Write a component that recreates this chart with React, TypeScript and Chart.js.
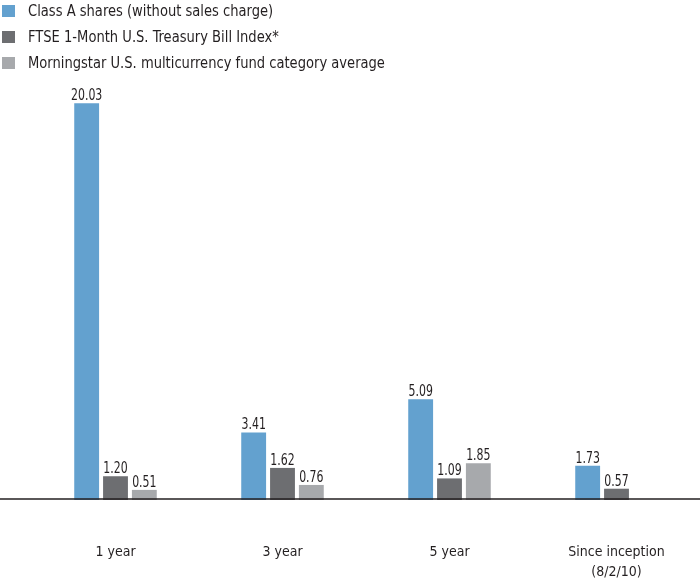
import React, { useEffect, useRef } from "react";
import { Chart, registerables } from "chart.js";

Chart.register(...registerables);

if (typeof document !== "undefined") {
  document.body.style.margin = "0";
  document.body.style.overflow = "hidden";
}

const categories: (string | string[])[] = ["1 year", "3 year", "5 year", ["Since inception", "(8/2/10)"]];
const seriesNames = [
  "Class A shares (without sales charge)",
  "FTSE 1-Month U.S. Treasury Bill Index*",
  "Morningstar U.S. multicurrency fund category average",
];
const classAValues = [20.03, 3.41, 5.09, 1.73];
const ftseValues = [1.2, 1.62, 1.09, 0.57];
const morningstarValues: (number | null)[] = [0.51, 0.76, 1.85, null];

const seriesColors = ["#63a1cf", "#6d6e71", "#a7a9ac"];
const TEXT = "#231f20";
const FONT = "'DejaVu Sans Condensed', 'Liberation Sans', sans-serif";

const drawCondensed = (ctx: any, text: string, x: number, y: number, sx: number) => {
  ctx.save();
  ctx.translate(x, y);
  ctx.scale(sx, 1);
  ctx.fillText(text, 0, 0);
  ctx.restore();
};

const legendPlugin = {
  id: "customLegend",
  afterDraw(chart: any) {
    const ctx = chart.ctx;
    ctx.save();
    ctx.font = `16px ${FONT}`;
    ctx.textBaseline = "middle";
    ctx.textAlign = "left";
    chart.data.datasets.forEach((ds: any, i: number) => {
      ctx.fillStyle = ds.backgroundColor;
      ctx.fillRect(2, 5 + i * 26, 13, 12);
      ctx.fillStyle = TEXT;
      drawCondensed(ctx, ds.label, 28, 11.5 + i * 26, 0.91);
    });
    ctx.restore();
  },
};

const valueLabelPlugin = {
  id: "valueLabels",
  afterDatasetsDraw(chart: any) {
    const ctx = chart.ctx;
    ctx.save();
    ctx.font = `16px ${FONT}`;
    ctx.fillStyle = TEXT;
    ctx.textAlign = "center";
    ctx.textBaseline = "alphabetic";
    chart.data.datasets.forEach((ds: any, di: number) => {
      const meta = chart.getDatasetMeta(di);
      meta.data.forEach((bar: any, i: number) => {
        const v = ds.data[i];
        if (v === null || v === undefined) return;
        drawCondensed(ctx, Number(v).toFixed(2), bar.x, bar.y - 3, 0.76);
      });
    });
    ctx.restore();
  },
};

const baselinePlugin = {
  id: "baseline",
  afterDatasetsDraw(chart: any) {
    const ctx = chart.ctx;
    const y = chart.scales.y.getPixelForValue(0) - 1;
    ctx.save();
    ctx.strokeStyle = TEXT;
    ctx.lineWidth = 1.6;
    ctx.beginPath();
    ctx.moveTo(0, y);
    ctx.lineTo(chart.width, y);
    ctx.stroke();
    ctx.restore();
  },
};

export default function App() {
  const canvasRef = useRef<HTMLCanvasElement | null>(null);

  useEffect(() => {
    document.body.style.margin = "0";
    if (!canvasRef.current) return;
    Chart.defaults.font.family = FONT;
    const chart = new Chart(canvasRef.current, {
      type: "bar",
      data: {
        labels: categories as any,
        datasets: [
          { label: seriesNames[0], data: classAValues, backgroundColor: seriesColors[0] },
          { label: seriesNames[1], data: ftseValues, backgroundColor: seriesColors[1] },
          { label: seriesNames[2], data: morningstarValues as any, backgroundColor: seriesColors[2] },
        ],
      },
      options: {
        animation: false,
        responsive: false,
        maintainAspectRatio: false,
        layout: { padding: { top: 80, right: -7, left: 0, bottom: 0 } },
        datasets: {
          bar: { categoryPercentage: 0.518, barPercentage: 0.862 },
        },
        plugins: {
          legend: { display: false },
          tooltip: { enabled: false },
        },
        scales: {
          x: {
            grid: { display: false, drawTicks: true, tickLength: 42 },
            border: { display: false },
            ticks: {
              color: TEXT,
              font: { size: 14, lineHeight: 1.4286 },
              padding: 0,
              maxRotation: 0,
              autoSkip: false,
            },
          },
          y: {
            min: 0,
            max: 21.21,
            grid: { display: false, drawTicks: false },
            border: { display: false },
            ticks: { display: false },
            afterFit: (scale: any) => {
              scale.width = 32;
            },
          },
        },
      },
      plugins: [legendPlugin, valueLabelPlugin, baselinePlugin],
    });
    return () => chart.destroy();
  }, []);

  return (
    <div style={{ width: 700, height: 582, position: "relative" }}>
      <canvas ref={canvasRef} width={700} height={582} style={{ display: "block" }} />
    </div>
  );
}
